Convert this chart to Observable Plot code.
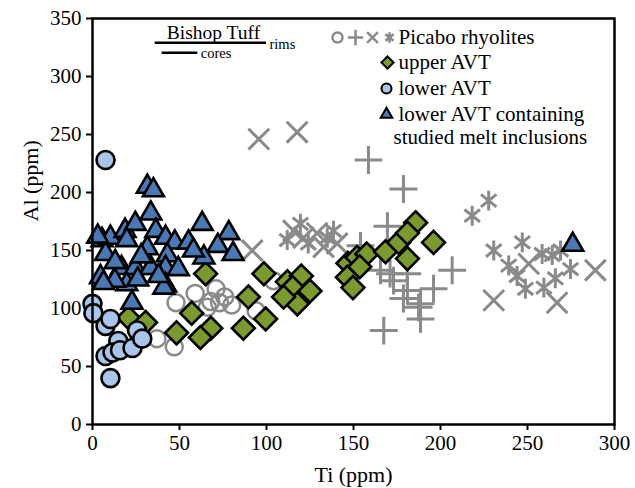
<!DOCTYPE html>
<html>
<head>
<meta charset="utf-8">
<script src="https://cdn.jsdelivr.net/npm/d3@7"></script>
<script src="https://cdn.jsdelivr.net/npm/@observablehq/plot@0.6"></script>
<style>
  html, body { margin: 0; padding: 0; background: #fff; }
  #chart { width: 635px; height: 488px; }
  #chart svg, #chart svg text { font-family: "Liberation Serif", "Times New Roman", serif; }
</style>
</head>
<body>
<div id="chart"></div>
<script>
// ---- tick labels ----
const tiTicks = [0, 50, 100, 150, 200, 250, 300];
const alTicks = [0, 50, 100, 150, 200, 250, 300, 350];

// ---- series: [Ti ppm, Al ppm] ----
const lowerAvt = [
  [0, 104], [0.5, 96], [7.5, 85], [10.3, 91], [14.8, 72], [7.5, 59], [11.5, 62],
  [15.8, 64], [23, 66], [25.6, 81], [28.6, 74], [10.3, 40], [7.5, 228]
];
const lowerAvtMI = [
  [31.5, 205], [35, 202], [33.5, 182], [63, 173], [78.3, 165], [5.5, 159], [10.3, 161],
  [18.7, 167], [24.6, 173], [36.4, 167], [42, 161], [47.3, 157], [55.2, 157], [72, 154],
  [80.8, 147], [64, 144], [19.7, 159], [31.5, 152], [43, 146], [7.5, 147], [4.6, 127],
  [16.7, 135], [24.6, 135], [33.5, 135], [42, 135], [49.3, 134], [19.7, 121], [42, 120],
  [12.8, 124], [22.7, 105], [6.3, 122], [41, 118], [28, 145], [38, 128], [13, 140],
  [26, 125], [58, 150], [3, 162], [276, 155]
];
const upperAvt = [
  [20.7, 92], [30.5, 88], [48.3, 79], [57, 96], [68, 83], [62, 75], [86.7, 83], [89.6, 110],
  [65, 130], [98.5, 130], [99.5, 91], [112, 123], [120, 128], [115, 118], [125, 115],
  [117.7, 104], [109.8, 110], [146.8, 139], [152, 144], [157.6, 147], [146.5, 127],
  [149.7, 118], [168.4, 149], [176, 157], [181, 143], [185.7, 174], [181, 165], [196, 157],
  [153.6, 136]
];
const picaboCircle = [
  [37, 74], [47, 67], [48, 105], [59, 113], [66, 101], [68, 106], [71, 117], [73, 105],
  [76, 110], [80, 103], [94, 98], [104, 124]
];
const picaboPlus = [
  [158.6, 228], [178.7, 203], [169.5, 171], [173, 124], [180.9, 130], [178.7, 108.6],
  [187.4, 101], [188.5, 91], [167.4, 81], [165.5, 133], [206.7, 133], [196, 117],
  [181, 115.5], [171, 130], [188.5, 104], [154, 154]
];
const picaboTimes = [
  [95.6, 246], [117.6, 252], [91.8, 150], [115.5, 167], [121.3, 161], [129, 165],
  [132.8, 153], [140.6, 156], [289, 133], [230.6, 107], [267, 105], [250.7, 138.5]
];
const picaboAsterisk = [
  [119.5, 173], [111.9, 159], [124, 156], [134.9, 161], [138.5, 167],
  [227.7, 193], [218.2, 180], [230.6, 150], [247, 157], [239.2, 137], [244, 128],
  [248.8, 117], [259.4, 118], [264.2, 146], [266, 126], [274.7, 134], [258.4, 147], [269, 150]
];

// ---- Bishop Tuff Ti ranges ----
const bishopRims = [[36, 100, 329]];
const bishopCores = [[40, 60.5, 320.5]];

// ---- legend ----
const legendLabels = ["Picabo rhyolites", "upper AVT", "lower AVT", "lower AVT containing", "studied melt inclusions"];

const gray = "#8a8a8a";
const green = "#7a9a30";
const blue = "#4a78b5";
const lightBlue = "#a9c5e9";

// asterisk: vertical bar + two diagonals
const asterisk = {
  draw(ctx, size) {
    const r = Math.sqrt(size / Math.PI) * 1.05;
    const d = r * 0.78;
    ctx.moveTo(0, -r); ctx.lineTo(0, r);
    ctx.moveTo(-d, -d * 0.8); ctx.lineTo(d, d * 0.8);
    ctx.moveTo(-d, d * 0.8); ctx.lineTo(d, -d * 0.8);
  }
};

const font = "Liberation Serif";
const lf = 21;

const chart = Plot.plot({
  width: 635,
  height: 488,
  marginLeft: 92,
  marginRight: 21,
  marginTop: 18,
  marginBottom: 64,
  x: {domain: [0, 300]},
  y: {domain: [0, 350]},
  style: {fontFamily: font, fontSize: "20px", color: "black", background: "white"},
  marks: [
    Plot.axisX({ticks: tiTicks, tickSize: 6, tickPadding: 5, fontSize: 21, fontFamily: font, strokeWidth: 2, label: null}),
    Plot.axisY({ticks: alTicks, tickSize: 6, tickPadding: 5, fontSize: 21, fontFamily: font, strokeWidth: 2, label: null}),
    Plot.text(["Ti (ppm)"], {frameAnchor: "bottom", dy: 50, fontSize: 22, fontFamily: font, lineAnchor: "middle"}),
    Plot.text(["Al (ppm)"], {frameAnchor: "left", dx: -62, rotate: -90, fontSize: 22, fontFamily: font, lineAnchor: "middle"}),

    // Bishop Tuff
    Plot.ruleY(bishopRims, {x1: d => d[0], x2: d => d[1], y: d => d[2], stroke: "black", strokeWidth: 2.5}),
    Plot.ruleY(bishopCores, {x1: d => d[0], x2: d => d[1], y: d => d[2], stroke: "black", strokeWidth: 2.5}),
    Plot.text(bishopRims, {x: d => (d[0] + d[1]) / 2 + 1.5, y: d => d[2], text: () => "Bishop Tuff", dy: -4, lineAnchor: "bottom", fontSize: 19.5, fontFamily: font}),
    Plot.text(bishopRims, {x: d => d[1], y: d => d[2], text: () => "rims", dx: 3, dy: 1, textAnchor: "start", lineAnchor: "middle", fontSize: 14.5, fontFamily: font}),
    Plot.text(bishopCores, {x: d => d[1], y: d => d[2], text: () => "cores", dx: 3, dy: 1, textAnchor: "start", lineAnchor: "middle", fontSize: 14.5, fontFamily: font}),

    // Picabo rhyolites
    Plot.dot(picaboCircle, {r: 8.5, stroke: gray, strokeWidth: 2.5, fill: "none"}),
    Plot.dot(picaboPlus, {symbol: "plus", r: 9, stroke: gray, strokeWidth: 3}),
    Plot.dot(picaboTimes, {symbol: "times", r: 9.5, stroke: gray, strokeWidth: 3}),
    Plot.dot(picaboAsterisk, {symbol: asterisk, r: 9.5, stroke: gray, strokeWidth: 3}),

    // upper AVT
    Plot.dot(upperAvt, {symbol: "diamond2", r: 10.3, fill: green, stroke: "black", strokeWidth: 2.6}),
    // lower AVT
    Plot.dot(lowerAvt, {r: 9, fill: lightBlue, stroke: "black", strokeWidth: 2.6}),
    // lower AVT with melt inclusions
    Plot.dot(lowerAvtMI, {symbol: "triangle2", r: 10, fill: blue, stroke: "black", strokeWidth: 2.6}),

    Plot.frame({stroke: "black", strokeWidth: 2.5}),

    // legend
    Plot.dot([0], {x: null, y: null, frameAnchor: "top-left", dx: 245, dy: 19, r: 5, stroke: gray, strokeWidth: 2.5, fill: "none"}),
    Plot.dot([0], {x: null, y: null, frameAnchor: "top-left", dx: 263, dy: 19, symbol: "plus", r: 5, stroke: gray, strokeWidth: 2.5}),
    Plot.dot([0], {x: null, y: null, frameAnchor: "top-left", dx: 280, dy: 19, symbol: "times", r: 5, stroke: gray, strokeWidth: 2.5}),
    Plot.dot([0], {x: null, y: null, frameAnchor: "top-left", dx: 297, dy: 19, symbol: asterisk, r: 5, stroke: gray, strokeWidth: 2.5}),
    Plot.dot([0], {x: null, y: null, frameAnchor: "top-left", dx: 295, dy: 44, symbol: "diamond2", r: 5.5, fill: green, stroke: "black", strokeWidth: 2}),
    Plot.dot([0], {x: null, y: null, frameAnchor: "top-left", dx: 294, dy: 70, r: 5, fill: lightBlue, stroke: "black", strokeWidth: 2}),
    Plot.dot([0], {x: null, y: null, frameAnchor: "top-left", dx: 294, dy: 96, symbol: "triangle2", r: 5.5, fill: blue, stroke: "black", strokeWidth: 2}),
    Plot.text([legendLabels[0]], {x: null, y: null, frameAnchor: "top-left", dx: 306, dy: 19, textAnchor: "start", lineAnchor: "middle", fontSize: lf, fontFamily: font}),
    Plot.text([legendLabels[1]], {x: null, y: null, frameAnchor: "top-left", dx: 306, dy: 44, textAnchor: "start", lineAnchor: "middle", fontSize: lf, fontFamily: font}),
    Plot.text([legendLabels[2]], {x: null, y: null, frameAnchor: "top-left", dx: 306, dy: 70, textAnchor: "start", lineAnchor: "middle", fontSize: lf, fontFamily: font}),
    Plot.text([legendLabels[3]], {x: null, y: null, frameAnchor: "top-left", dx: 306, dy: 96, textAnchor: "start", lineAnchor: "middle", fontSize: lf, fontFamily: font}),
    Plot.text([legendLabels[4]], {x: null, y: null, frameAnchor: "top-left", dx: 301, dy: 119, textAnchor: "start", lineAnchor: "middle", fontSize: lf, fontFamily: font})
  ]
});

document.getElementById("chart").appendChild(chart);
</script>
</body>
</html>
